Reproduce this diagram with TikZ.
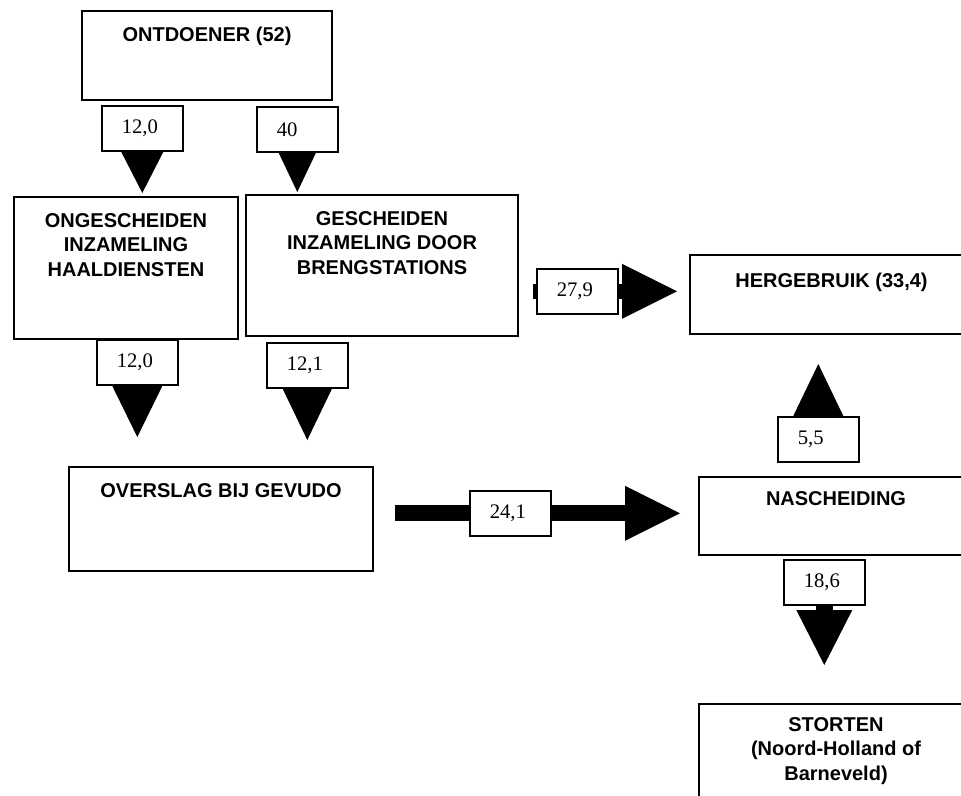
\documentclass[tikz,border=0pt]{standalone}
\usepackage{fontspec}
\setmainfont{Liberation Serif}
\setsansfont{Liberation Sans}
\usepackage{tikz}
\usetikzlibrary{positioning,calc,arrows.meta,backgrounds}

\tikzset{
  box/.style={draw, line width=1.5pt, inner sep=0pt, anchor=north west},
  title/.style={font={\fontsize{15}{18.4}\selectfont\sffamily\bfseries}, align=center, inner sep=0pt},
  num/.style={draw, line width=1.2pt, fill=white, anchor=north west, font={\fontsize{15.5}{18}\selectfont},
    text width=30.75pt, inner xsep=15pt, inner ysep=0pt, minimum height=33.75pt, align=left},
  flow/.style 2 args={-{Triangle[length=#1, width=#2, line width=0pt]}, line width=0.4pt},
}

\begin{document}
\begin{tikzpicture}[x=0.75pt, y=-0.75pt]
    \useasboundingbox (0,0) rectangle (961,796);
    \clip (0,0) rectangle (961,796);

    % stations
    \node[box, minimum width=187.5pt, minimum height=66.75pt] (ontd) at (81,10) {};
    \node[box, minimum width=168pt, minimum height=106.5pt] (onges) at (13,196) {};
    \node[box, minimum width=204pt, minimum height=105.75pt] (gesch) at (245,194) {};
    \node[box, minimum width=228pt, minimum height=78pt] (overslag) at (68,466) {};
    \node[box, minimum width=212.25pt, minimum height=59.25pt] (herg) at (689,254) {};
    \node[box, minimum width=205.5pt, minimum height=58.5pt] (nasch) at (698,476) {};
    \node[box, minimum width=205.5pt, minimum height=90pt] (stort) at (698,703) {};

    \node[title, below=12.75pt of ontd.north] (ontdT) {ONTDOENER (52)};
    \node[title, below=12.75pt of onges.north] (ongesT) {ONGESCHEIDEN\\INZAMELING\\HAALDIENSTEN};
    \node[title, below=12.75pt of gesch.north] (geschT) {GESCHEIDEN\\INZAMELING DOOR\\BRENGSTATIONS};
    \node[title, below=12.75pt of overslag.north] (overslagT) {OVERSLAG BIJ GEVUDO};
    \node[title, below=14.25pt of herg.north] (hergT) {HERGEBRUIK (33,4)};
    \node[title, below=11.25pt of nasch.north] (naschT) {NASCHEIDING};
    \node[title, below=10.5pt of stort.north] (stortT) {STORTEN\\(Noord-Holland of\\Barneveld)};

    % stromen
    \node[num] (l1) at (101,105) {12,0};
    \node[num] (l2) at (256,106) {40};
    \node[num] (l3) at (96,339) {12,0};
    \node[num] (l4) at (266,342) {12,1};
    \node[num] (l5) at (536,268) {27,9};
    \node[num] (l6) at (469,490) {24,1};
    \node[num] (l7) at (777,416) {5,5};
    \node[num] (l8) at (783,559) {18,6};

    \begin{scope}[on background layer]
        \draw[flow={32.25pt}{33pt}, shorten >=2.25pt] (l1.south) -- (l1.south |- onges.north);
        \draw[flow={30.75pt}{29.25pt}, shorten >=1.5pt] (l2.south) -- (l2.south |- gesch.north);
        \draw[flow={39.75pt}{39pt}, shorten >=21.75pt] (l3.south) -- (l3.south |- overslag.north);
        \draw[flow={39.75pt}{38.25pt}, shorten >=19.5pt] (l4.south) -- (l4.south |- overslag.north);
        \draw[flow={41.25pt}{41.25pt}, line width=11.25pt, shorten >=9pt] ($(l5.west)+(-2.25pt,0)$) -- (l5.west -| herg.west);
        \coordinate (barstart) at ($(overslag.east |- l6.west)+(15.75pt,0)$);
        \draw[flow={41.25pt}{41.25pt}, line width=12pt, shorten >=13.5pt] (barstart) -- (l6.west -| nasch.west);
        \draw[flow={40.5pt}{39pt}, shorten >=21.75pt] (l7.north) -- (l7.north |- herg.south);
        \draw[flow={41.25pt}{42pt}, line width=12.75pt, shorten >=28.5pt] (l8.south) -- (l8.south |- stort.north);
    \end{scope}
\end{tikzpicture}
\end{document}
